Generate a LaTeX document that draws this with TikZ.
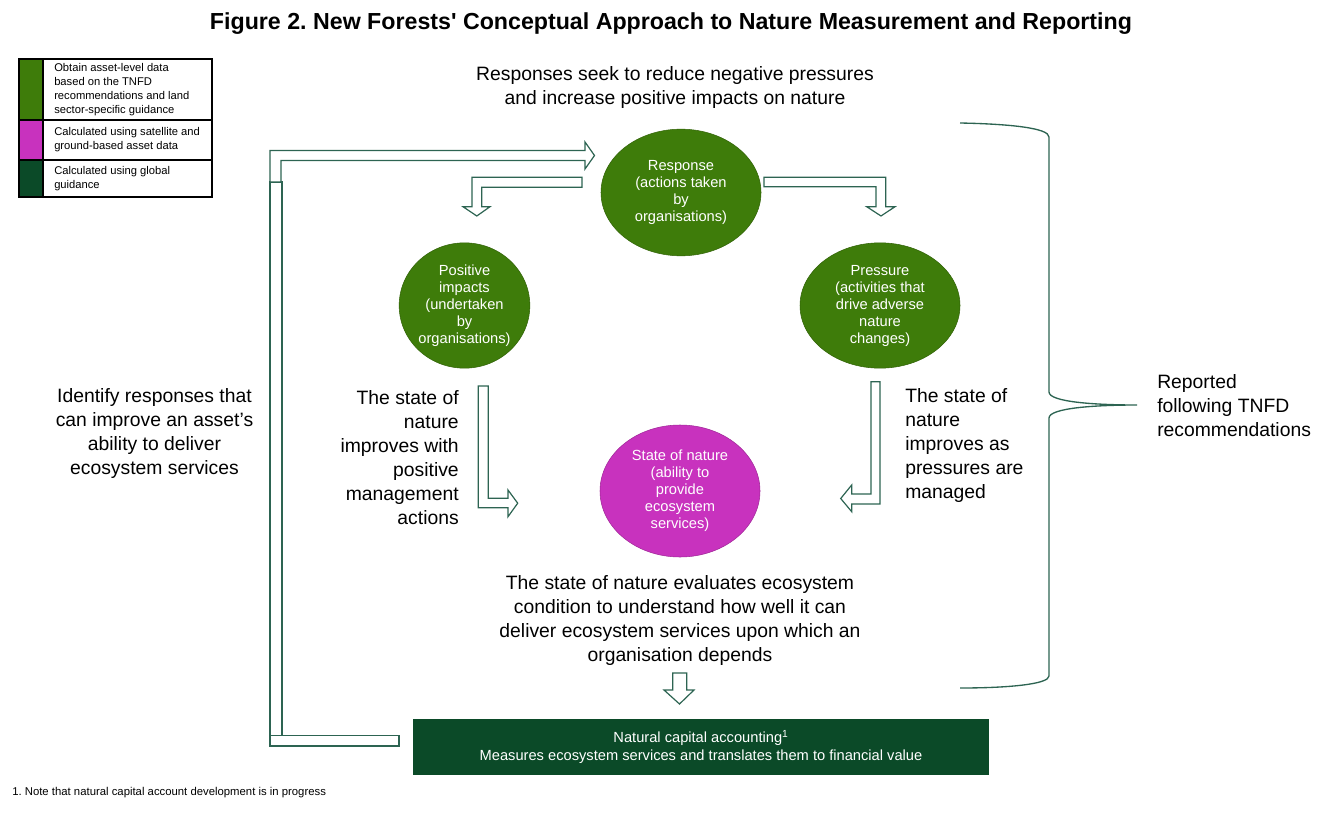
\documentclass[tikz,border=0pt]{standalone}
\usepackage{fontspec}
\setmainfont{Liberation Sans}
\usepackage{xcolor}
\usetikzlibrary{shapes.geometric}
\frenchspacing

\definecolor{leafgreen}{RGB}{62,124,10}
\definecolor{satmagenta}{RGB}{200,50,190}
\definecolor{darkforest}{RGB}{11,74,40}
\definecolor{arrowline}{RGB}{45,100,82}

\begin{document}
\begin{tikzpicture}[x=0.75pt,y=-0.75pt,
  bodytext/.style={inner sep=0pt,font=\fontsize{14.5}{18}\selectfont},
  legendtext/.style={inner sep=0pt,anchor=west,align=left,font=\fontsize{8.4}{10.5}\selectfont},
  bubble/.style={ellipse,inner sep=0pt,align=center,text=white,draw=leafgreen!80!black,fill=leafgreen,font=\fontsize{11}{12.75}\selectfont},
  blockarrow/.style={draw=arrowline,line width=0.9pt,fill=white,line join=miter}]
\useasboundingbox (0,0) rectangle (1338,820);

% title
\node[inner sep=0pt,font=\bfseries\fontsize{17.4}{20}\selectfont] (title) at (671,24) {Figure 2. New Forests\textquotesingle{} Conceptual Approach to Nature Measurement and Reporting};

% legend
\fill[leafgreen] (19,59) rectangle (43,120);
\fill[satmagenta] (19,120) rectangle (43,160);
\fill[darkforest] (19,160) rectangle (43,197);
\draw[line width=1.1pt] (19,59) rectangle (212,197);
\draw[line width=1.1pt] (19,120) -- (212,120) (19,160) -- (212,160) (43,59) -- (43,197);
\node[legendtext] (leg1) at (54,89.5) {Obtain asset-level data\\based on the TNFD\\recommendations and land\\sector-specific guidance};
\node[legendtext] (leg2) at (54,140) {Calculated using satellite and\\ground-based asset data};
\node[legendtext] (leg3) at (54,179) {Calculated using global\\guidance};

% the four ellipses
\node[bubble,minimum width=120pt,minimum height=95pt] (response) at (681,192.5) {Response\\(actions taken\\by\\organisations)};
\node[bubble,minimum width=98pt,minimum height=94pt] (positive) at (464.5,305.5) {Positive\\impacts\\(undertaken\\by\\organisations)};
\node[bubble,minimum width=120pt,minimum height=94pt] (pressure) at (880,305.5) {Pressure\\(activities that\\drive adverse\\nature\\changes)};
\node[bubble,fill=satmagenta,draw=satmagenta!80!black,minimum width=120pt,minimum height=99pt] (state) at (680,491) {State of nature\\(ability to\\provide\\ecosystem\\services)};

% texts
\node[bodytext,align=center] (aim) at (675,88) {Responses seek to reduce negative pressures\\and increase positive impacts on nature};
\node[bodytext,align=center] (identify) at (154.5,433.5) {Identify responses that\\can improve an asset’s\\ability to deliver\\ecosystem services};
\node[bodytext,align=right,anchor=east] (improvepos) at (459,457.5) {The state of\\nature\\improves with\\positive\\management\\actions};
\node[bodytext,align=left,anchor=west] (improvepress) at (905,445.5) {The state of\\nature\\improves as\\pressures are\\managed};
\node[bodytext,align=left,anchor=west] (reported) at (1157,406) {Reported\\following TNFD\\recommendations};
\node[bodytext,align=center] (evaluate) at (680,620) {The state of nature evaluates ecosystem\\condition to understand how well it can\\deliver ecosystem services upon which an\\organisation depends};

% accounting box
\node[fill=darkforest,text=white,align=center,minimum width=432pt,minimum height=42pt,inner sep=0pt,font=\fontsize{11}{13.5}\selectfont] (accounting) at (701,747) {Natural capital accounting\textsuperscript{1}\\Measures ecosystem services and translates them to financial value};
\node[inner sep=0pt,anchor=west,font=\fontsize{8.5}{10}\selectfont] (note) at (12,793) {1. Note that natural capital account development is in progress};

% block arrows
\draw[blockarrow] (270,182) rectangle (282,746);
\draw[blockarrow] (270,182) -- (270,150.5) -- (585,150.5) -- (585,142) -- (594.5,155.5) -- (585,169) -- (585,160.5) -- (281,160.5) -- (281,182) -- cycle;
\draw[blockarrow] (270,735.7) rectangle (399,746);
\draw[blockarrow] (582,177.3) -- (472,177.3) -- (472,206.7) -- (463,206.7) -- (476.8,216) -- (490,206.7) -- (481.7,206.7) -- (481.7,187.3) -- (582,187.3) -- cycle;
\draw[blockarrow] (764,177.3) -- (885.7,177.3) -- (885.7,206.7) -- (895,206.7) -- (881,216) -- (866.7,206.7) -- (876,206.7) -- (876,186.7) -- (764,186.7) -- cycle;
\draw[blockarrow] (478.3,386) -- (488.3,386) -- (488.3,498.3) -- (508,498.3) -- (508,490) -- (517.7,503.2) -- (508,516.7) -- (508,507.7) -- (478.3,507.7) -- cycle;
\draw[blockarrow] (880,381.7) -- (871,381.7) -- (871,494) -- (851.7,494) -- (851.7,485) -- (840.7,498.5) -- (851.7,511.7) -- (851.7,504) -- (880,504) -- cycle;
\draw[blockarrow] (672.7,673) -- (686.7,673) -- (686.7,690) -- (694,690) -- (679.5,704) -- (664,690) -- (672.7,690) -- cycle;

% brace
\draw[arrowline,line width=1pt] (960,123) .. controls (1010,124) and (1049,128) .. (1049,137) -- (1049,392) .. controls (1049,402) and (1095,405) .. (1137,405) .. controls (1095,405) and (1049,408) .. (1049,418) -- (1049,676) .. controls (1049,684) and (1010,688) .. (960,688);
\end{tikzpicture}
\end{document}
